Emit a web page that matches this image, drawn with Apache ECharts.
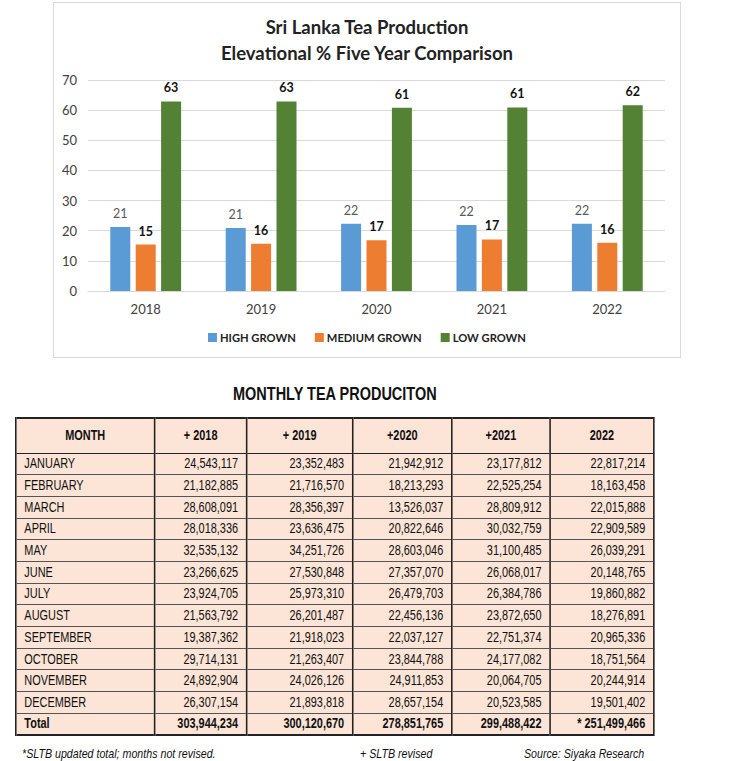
<!DOCTYPE html>
<html>
<head>
<meta charset="utf-8">
<script src="https://cdn.jsdelivr.net/npm/echarts@6/dist/echarts.min.js"></script>
<style>
  html, body { margin: 0; padding: 0; background: #ffffff; }
  body { width: 750px; height: 761px; position: relative; overflow: hidden; }
  #chart { position: absolute; left: 53px; top: 2px; width: 628px; height: 356px; border: 1px solid #d9d9d9; box-sizing: border-box; }
  .narrow { display: inline-block; transform: scaleX(0.82); transform-origin: left top; white-space: nowrap; }
  #ttitle { position: absolute; left: 233px; top: 384px; transform: scaleX(0.805);
    font-family: "Liberation Sans", Arial, sans-serif; font-weight: bold; font-size: 18px; color: #111; }
  #tblwrap { position: absolute; left: 15px; top: 417px; transform: scaleX(0.78); transform-origin: left top; }
  table { border-collapse: collapse; border: 2.4px solid #222; table-layout: fixed; width: 818px;
    font-family: "Liberation Sans", Arial, sans-serif; font-size: 14px; color: #111; background: #fce4d6; }
  td, th { border-left: 2px solid #222; border-right: 2px solid #222; border-top: 1px solid #555; border-bottom: 1px solid #555;
    padding: 0 10px; white-space: nowrap; line-height: 15px; }
  tr { height: 21.7px; }
  tr.head { height: 35px; }
  th { font-weight: bold; text-align: center; border-bottom: 1.6px solid #222; }
  td.num { text-align: right; }
  td.mon { text-align: left; }
  tr.total td { font-weight: bold; border-top: 1.6px solid #222; }
  .foot { position: absolute; top: 746px; font-family: "Liberation Sans", Arial, sans-serif; font-style: italic; font-size: 13px; color: #111; }
</style>
</head>
<body>
<div id="chart"></div>
<div id="ttitle" class="narrow">MONTHLY TEA PRODUCITON</div>
<div id="tblwrap"><table id="tbl"></table></div>
<div class="foot narrow" style="left:22px;">*SLTB updated total; months not revised.</div>
<div class="foot narrow" style="left:360px;">+ SLTB revised</div>
<div class="foot narrow" style="left:524px;">Source: Siyaka Research</div>
<script>
// ---- Chart data ----
const years = ['2018', '2019', '2020', '2021', '2022'];
const highGrown = [21.2, 20.9, 22.3, 21.9, 22.3];
const mediumGrown = [15.4, 15.7, 16.8, 17.1, 16.0];
const lowGrown = [62.9, 62.9, 60.8, 60.9, 61.6];
const seriesNames = ['HIGH GROWN', 'MEDIUM GROWN', 'LOW GROWN'];

// ---- Table data ----
const tableHeaders = ['MONTH', '+ 2018', '+ 2019', '+2020', '+2021', '2022'];
const months = ['JANUARY', 'FEBRUARY', 'MARCH', 'APRIL', 'MAY', 'JUNE', 'JULY', 'AUGUST', 'SEPTEMBER', 'OCTOBER', 'NOVEMBER', 'DECEMBER'];
const prod2018 = ['24,543,117', '21,182,885', '28,608,091', '28,018,336', '32,535,132', '23,266,625', '23,924,705', '21,563,792', '19,387,362', '29,714,131', '24,892,904', '26,307,154'];
const prod2019 = ['23,352,483', '21,716,570', '28,356,397', '23,636,475', '34,251,726', '27,530,848', '25,973,310', '26,201,487', '21,918,023', '21,263,407', '24,026,126', '21,893,818'];
const prod2020 = ['21,942,912', '18,213,293', '13,526,037', '20,822,646', '28,603,046', '27,357,070', '26,479,703', '22,456,136', '22,037,127', '23,844,788', '24,911,853', '28,657,154'];
const prod2021 = ['23,177,812', '22,525,254', '28,809,912', '30,032,759', '31,100,485', '26,068,017', '26,384,786', '23,872,650', '22,751,374', '24,177,082', '20,064,705', '20,523,585'];
const prod2022 = ['22,817,214', '18,163,458', '22,015,888', '22,909,589', '26,039,291', '20,148,765', '19,860,882', '18,276,891', '20,965,336', '18,751,564', '20,244,914', '19,501,402'];
const totals = ['303,944,234', '300,120,670', '278,851,765', '299,488,422', '* 251,499,466'];

// ---- Build table ----
const colWidths = [178, 118, 136, 127, 126, 133];
const tbl = document.getElementById('tbl');
let html = '<colgroup>' + colWidths.map(w => `<col style="width:${w}px">`).join('') + '</colgroup>';
html += '<tr class="head">' + tableHeaders.map(h => `<th>${h}</th>`).join('') + '</tr>';
const cols = [prod2018, prod2019, prod2020, prod2021, prod2022];
months.forEach((m, r) => {
  html += '<tr><td class="mon">' + m + '</td>' + cols.map(c => '<td class="num">' + c[r] + '</td>').join('') + '</tr>';
});
html += '<tr class="total"><td class="mon">Total</td>' + totals.map(t => '<td class="num">' + t + '</td>').join('') + '</tr>';
tbl.innerHTML = html;

// ---- Chart ----
const chart = echarts.init(document.getElementById('chart'), null, { renderer: 'svg' });
const font = 'Lato, "Open Sans", sans-serif';
const colors = ['#5b9bd5', '#ed7d31', '#548235'];
const labelStyles = [
  { color: '#595959', fontWeight: 'normal' },
  { color: '#111111', fontWeight: 'bold' },
  { color: '#111111', fontWeight: 'bold' }
];
const dataSets = [highGrown, mediumGrown, lowGrown];
chart.setOption({
  animation: false,
  color: colors,
  title: {
    text: 'Sri Lanka Tea Production\nElevational % Five Year Comparison',
    left: 'center',
    top: 11,
    padding: 0,
    textStyle: { fontFamily: font, fontSize: 18.5, fontWeight: 'bold', color: '#222', lineHeight: 26 }
  },
  legend: {
    bottom: 9,
    left: 'center',
    itemWidth: 9,
    itemHeight: 9,
    itemGap: 19,
    icon: 'rect',
    textStyle: { fontFamily: font, fontSize: 11.2, fontWeight: 'bold', color: '#222', padding: [0, 0, 0, -2] },
    data: seriesNames
  },
  grid: { left: 34, right: 15, top: 77, bottom: 66 },
  xAxis: {
    type: 'category',
    data: years,
    axisTick: { show: false },
    axisLine: { lineStyle: { color: '#d9d9d9', width: 1 } },
    axisLabel: { fontFamily: font, fontSize: 13, color: '#404040', margin: 11 }
  },
  yAxis: {
    type: 'value',
    min: 0,
    max: 70,
    interval: 10,
    axisLine: { show: false },
    axisTick: { show: false },
    splitLine: { lineStyle: { color: '#d9d9d9', width: 1 } },
    axisLabel: { fontFamily: font, fontSize: 13, color: '#404040', margin: 11 }
  },
  series: seriesNames.map((n, i) => ({
    name: n,
    type: 'bar',
    data: dataSets[i],
    barWidth: 20,
    barGap: '27%',
    label: {
      show: true,
      position: 'top',
      distance: 7,
      fontFamily: font,
      fontSize: 12.5,
      color: labelStyles[i].color,
      fontWeight: labelStyles[i].fontWeight,
      formatter: p => Math.round(p.value)
    }
  }))
});
</script>
</body>
</html>
